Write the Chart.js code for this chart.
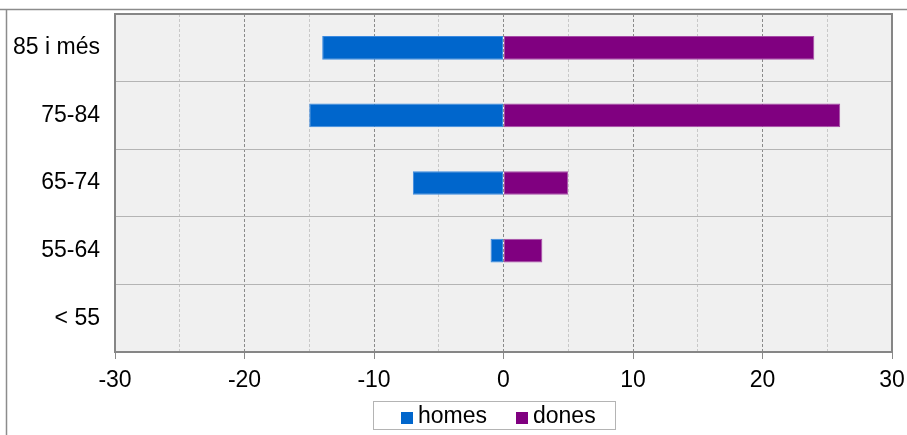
<!DOCTYPE html>
<html>
<head>
<meta charset="utf-8">
<script src="https://cdn.jsdelivr.net/npm/chart.js@4/dist/chart.umd.min.js"></script>
<style>
  html, body { margin: 0; padding: 0; background: #fff; }
  #wrap { width: 907px; height: 435px; position: relative; }
</style>
</head>
<body>
<div id="wrap"><canvas id="pyramid"></canvas></div>
<script>
"use strict"
// age groups, top to bottom
const categories = ["85 i més", "75-84", "65-74", "55-64", "< 55"];
// series values (men negative, women positive)
const homes = [-14, -15, -7, -1, 0];
const dones = [24, 26, 5, 3, 0];
// axis range
const xMin = -30, xMax = 30, xStep = 5;

const FONT = "'Liberation Sans', Arial, sans-serif";

// frame, plot background and border
const framePlugin = {
  id: "frame",
  beforeDraw(chart) {
    const c = chart.ctx, a = chart.chartArea;
    c.save();
    c.fillStyle = "#f0f0f0";
    c.fillRect(a.left, a.top, a.right - a.left, a.bottom - a.top);
    c.restore();
  },
  afterDraw(chart) {
    const c = chart.ctx, a = chart.chartArea;
    c.save();
    // outer frame (top + left)
    c.strokeStyle = "#8c8c8c";
    c.lineWidth = 1.5;
    c.beginPath();
    c.moveTo(0, 9.5); c.lineTo(907, 9.5);
    c.moveTo(6.5, 9.5); c.lineTo(6.5, 435);
    c.stroke();
    // plot border
    c.strokeStyle = "#868686";
    c.lineWidth = 2;
    c.strokeRect(a.left, a.top, a.right - a.left, a.bottom - a.top);
    // legend
    c.strokeStyle = "#b4b4b4";
    c.lineWidth = 1;
    c.strokeRect(373.5, 401.5, 242, 28);
    c.font = "23px " + FONT;
    c.textBaseline = "alphabetic";
    const ds = chart.data.datasets;
    const items = [[401, 418], [516, 533]];
    ds.forEach(function(d, i) {
      c.fillStyle = d.backgroundColor;
      c.fillRect(items[i][0], 412, 12, 12);
      c.fillStyle = "#000";
      c.fillText(d.label, items[i][1], 423);
    });
    c.restore();
  }
};

function noPad(s) {
  s.paddingTop = 0; s.paddingBottom = 0; s.paddingLeft = 0; s.paddingRight = 0;
}

new Chart(document.getElementById("pyramid"), {
  type: "bar",
  data: {
    labels: categories,
    datasets: [
      {
        label: "homes",
        data: homes,
        backgroundColor: "#0066cc",
        borderColor: "#3b8ae0",
        borderWidth: 1,
        borderSkipped: false,
        barPercentage: 0.35,
        categoryPercentage: 1
      },
      {
        label: "dones",
        data: dones,
        backgroundColor: "#800080",
        borderColor: "#a64ca6",
        borderWidth: 1,
        borderSkipped: false,
        barPercentage: 0.35,
        categoryPercentage: 1
      }
    ]
  },
  options: {
    indexAxis: "y",
    responsive: true,
    maintainAspectRatio: false,
    animation: false,
    layout: { padding: { left: 0, top: 14, right: 15, bottom: 0 } },
    plugins: {
      legend: { display: false },
      tooltip: { enabled: false }
    },
    scales: {
      x: {
        stacked: true,
        min: xMin,
        max: xMax,
        afterFit: function(s) { s.height = 83; noPad(s); },
        border: { display: false, dash: [3, 2] },
        grid: {
          color: function(ctx) {
            return ctx.tick && ctx.tick.value % 10 === 0 ? "#8a8a8a" : "#c8c8c8";
          },
          tickColor: function(ctx) {
            return ctx.tick && ctx.tick.value % 10 === 0 ? "#8a8a8a" : "rgba(0,0,0,0)";
          },
          tickLength: 7,
          lineWidth: 1
        },
        ticks: {
          stepSize: xStep,
          autoSkip: false,
          maxRotation: 0,
          padding: 8,
          color: "#000",
          font: { family: FONT, size: 23 },
          callback: function(v) { return v % 10 === 0 ? v : ""; }
        }
      },
      y: {
        stacked: true,
        afterFit: function(s) { s.width = 115; noPad(s); },
        border: { display: false },
        grid: { color: "#b4b4b4", lineWidth: 1, drawTicks: false },
        ticks: {
          padding: 15,
          color: "#000",
          font: { family: FONT, size: 23 }
        }
      }
    }
  },
  plugins: [framePlugin]
});
</script>
</body>
</html>
